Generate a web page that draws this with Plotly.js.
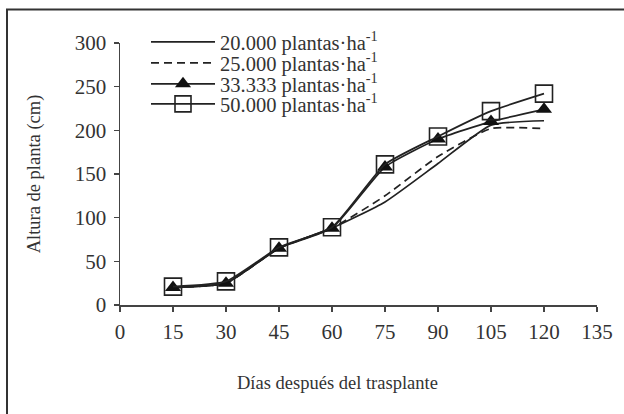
<!DOCTYPE html>
<html>
<head>
<meta charset="utf-8">
<script src="https://cdn.plot.ly/plotly-3.0.1.min.js"></script>
<style>html,body{margin:0;padding:0;background:#fff;}#chart{width:624px;height:414px;}</style>
</head>
<body>
<div id="chart"></div>
<script>
var days = [15, 30, 45, 60, 75, 90, 105, 120];
var seriesNames = ["20.000 plantas·ha<sup>-1</sup>", "25.000 plantas·ha<sup>-1</sup>", "33.333 plantas·ha<sup>-1</sup>", "50.000 plantas·ha<sup>-1</sup>"];
var h20000 = [20, 25, 65, 88, 118, 162, 206, 211];
var h25000 = [20, 25, 65, 88, 125, 170, 202, 202];
var h33333 = [20, 25, 65, 88, 158, 190, 210, 224];
var h50000 = [21, 27, 66, 89, 161, 193, 222, 242];
var xTicks = [0, 15, 30, 45, 60, 75, 90, 105, 120, 135];
var yTicks = [0, 50, 100, 150, 200, 250, 300];
var xTitle = "Días después del trasplante";
var yTitle = "Altura de planta (cm)";

var L = 120, R = 597, T = 43, B = 305, W = 624, H = 414;
function px(p){ return (p - L) / (R - L); }
function py(p){ return (B - p) / (B - T); }

var fam = "Liberation Serif, Times New Roman, serif";
var tickFont = {family: fam, size: 21, color: "#333"};
var legFont = {family: fam, size: 20.5, color: "#333"};
var titleFont = {family: fam, size: 18.5, color: "#333"};

var lineStyle = {color: "#222", width: 1.7, shape: "spline", smoothing: 0.5};
function ls(extra){ var o = {}; for (var k in lineStyle) o[k] = lineStyle[k]; for (var k2 in extra) o[k2] = extra[k2]; return o; }

var traces = [
  {x: days, y: h20000, name: seriesNames[0], legend: "legend", mode: "lines", line: ls({})},
  {x: days, y: h25000, name: seriesNames[1], legend: "legend2", mode: "lines", line: ls({dash: "8px,5px"})},
  {x: days, y: h33333, name: seriesNames[2], legend: "legend3", mode: "lines+markers", line: ls({}), marker: {symbol: "triangle-up", size: 14, color: "#111"}},
  {x: days, y: h50000, name: seriesNames[3], legend: "legend4", mode: "lines+markers", line: ls({}), marker: {symbol: "square-open", size: 17, color: "#222", line: {width: 1.6, color: "#222"}}}
];

function leg(rowY){
  return {x: px(146), y: py(rowY), xanchor: "left", yanchor: "middle", bgcolor: "rgba(0,0,0,0)", font: legFont, itemwidth: 64, borderwidth: 0};
}

var layout = {
  width: W, height: H,
  margin: {l: L, r: W - R, t: T, b: H - B},
  paper_bgcolor: "#fff", plot_bgcolor: "#fff",
  font: tickFont,
  showlegend: true,
  legend: leg(42), legend2: leg(63), legend3: leg(84), legend4: leg(104),
  xaxis: {
    range: [0, 135], tickvals: xTicks, ticktext: xTicks.map(String),
    showline: true, linecolor: "#444", linewidth: 1.5,
    ticks: "outside", ticklen: 5, tickcolor: "#444", tickwidth: 1.5,
    showgrid: false, zeroline: false, tickfont: tickFont, ticklabelstandoff: 2
  },
  yaxis: {
    range: [0, 300], tickvals: yTicks, ticktext: yTicks.map(String),
    showline: true, linecolor: "#444", linewidth: 1.5,
    ticks: "outside", ticklen: 5, tickcolor: "#444", tickwidth: 1.5,
    showgrid: false, zeroline: false, tickfont: tickFont, ticklabelstandoff: 3,
    title: {text: yTitle, font: titleFont, standoff: 29}
  },
  annotations: [{
    text: xTitle, xref: "paper", yref: "paper", x: px(337), y: py(383),
    xanchor: "center", yanchor: "middle", showarrow: false, font: titleFont
  }],
  shapes: [{
    type: "rect", xref: "paper", yref: "paper",
    x0: px(7), x1: px(640), y0: py(430), y1: py(9.5),
    line: {color: "#333", width: 2}, fillcolor: "rgba(0,0,0,0)", layer: "below"
  }]
};

Plotly.newPlot("chart", traces, layout, {displayModeBar: false, staticPlot: true});
</script>
</body>
</html>
